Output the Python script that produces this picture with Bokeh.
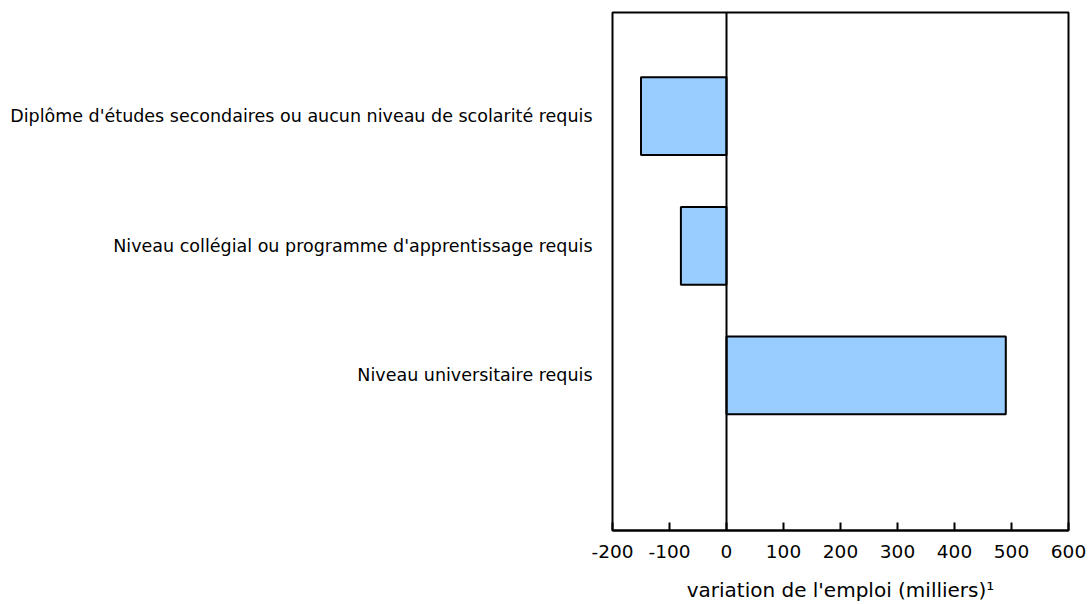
from bokeh.plotting import figure
from bokeh.models import Range1d, FixedTicker, Span, ColumnDataSource
from bokeh.embed import file_html
from bokeh.resources import INLINE

categories = [
    "Diplôme d'études secondaires ou aucun niveau de scolarité requis",
    "Niveau collégial ou programme d'apprentissage requis",
    "Niveau universitaire requis",
]
values = [-150, -80, 490]
x_ticks = [-200, -100, 0, 100, 200, 300, 400, 500, 600]
x_label = "variation de l'emploi (milliers)¹"

n = len(categories)
ypos = [n - i for i in range(n)]
src = ColumnDataSource(dict(y=ypos, right=values, left=[0] * n, cat=categories))

FONT = "DejaVu Sans"

p = figure(width=1088, height=604, output_backend="svg", toolbar_location=None,
           x_range=Range1d(-200, 600), y_range=Range1d(-0.196, 3.8))
p.min_border_left = 612
p.min_border_top = 12
p.min_border_right = 20
p.min_border_bottom = 72

p.hbar(y="y", left="left", right="right", height=0.6, source=src,
       fill_color="#99CCFF", line_color="black", line_width=2)

p.add_layout(Span(location=0, dimension="height", line_color="black", line_width=2))

p.xgrid.visible = False
p.ygrid.visible = False
p.outline_line_color = "black"
p.outline_line_width = 2
p.outline_line_alpha = 1

xa = p.xaxis[0]
xa.ticker = FixedTicker(ticks=x_ticks)
xa.major_label_overrides = {t: str(t) for t in x_ticks}
xa.major_tick_in = 8
xa.major_tick_out = 0
xa.major_tick_line_width = 2
xa.major_tick_line_color = "black"
xa.minor_tick_line_color = None
xa.axis_line_color = "black"
xa.axis_line_width = 2
xa.major_label_text_font = FONT
xa.major_label_text_font_size = "18.5px"
xa.major_label_text_color = "black"
xa.major_label_standoff = 14
xa.axis_label = x_label
xa.axis_label_text_font = FONT
xa.axis_label_text_font_size = "20px"
xa.axis_label_text_font_style = "normal"
xa.axis_label_text_color = "black"
xa.axis_label_standoff = 17

ya = p.yaxis[0]
ya.ticker = FixedTicker(ticks=ypos)
ya.major_label_overrides = {y: c for y, c in zip(ypos, categories)}
ya.major_tick_in = 0
ya.major_tick_out = 0
ya.minor_tick_line_color = None
ya.axis_line_color = None
ya.major_label_standoff = 20
ya.major_label_text_font = FONT
ya.major_label_text_font_size = "17.5px"
ya.major_label_text_color = "black"

open("out.html", "w").write(file_html(p, INLINE))
